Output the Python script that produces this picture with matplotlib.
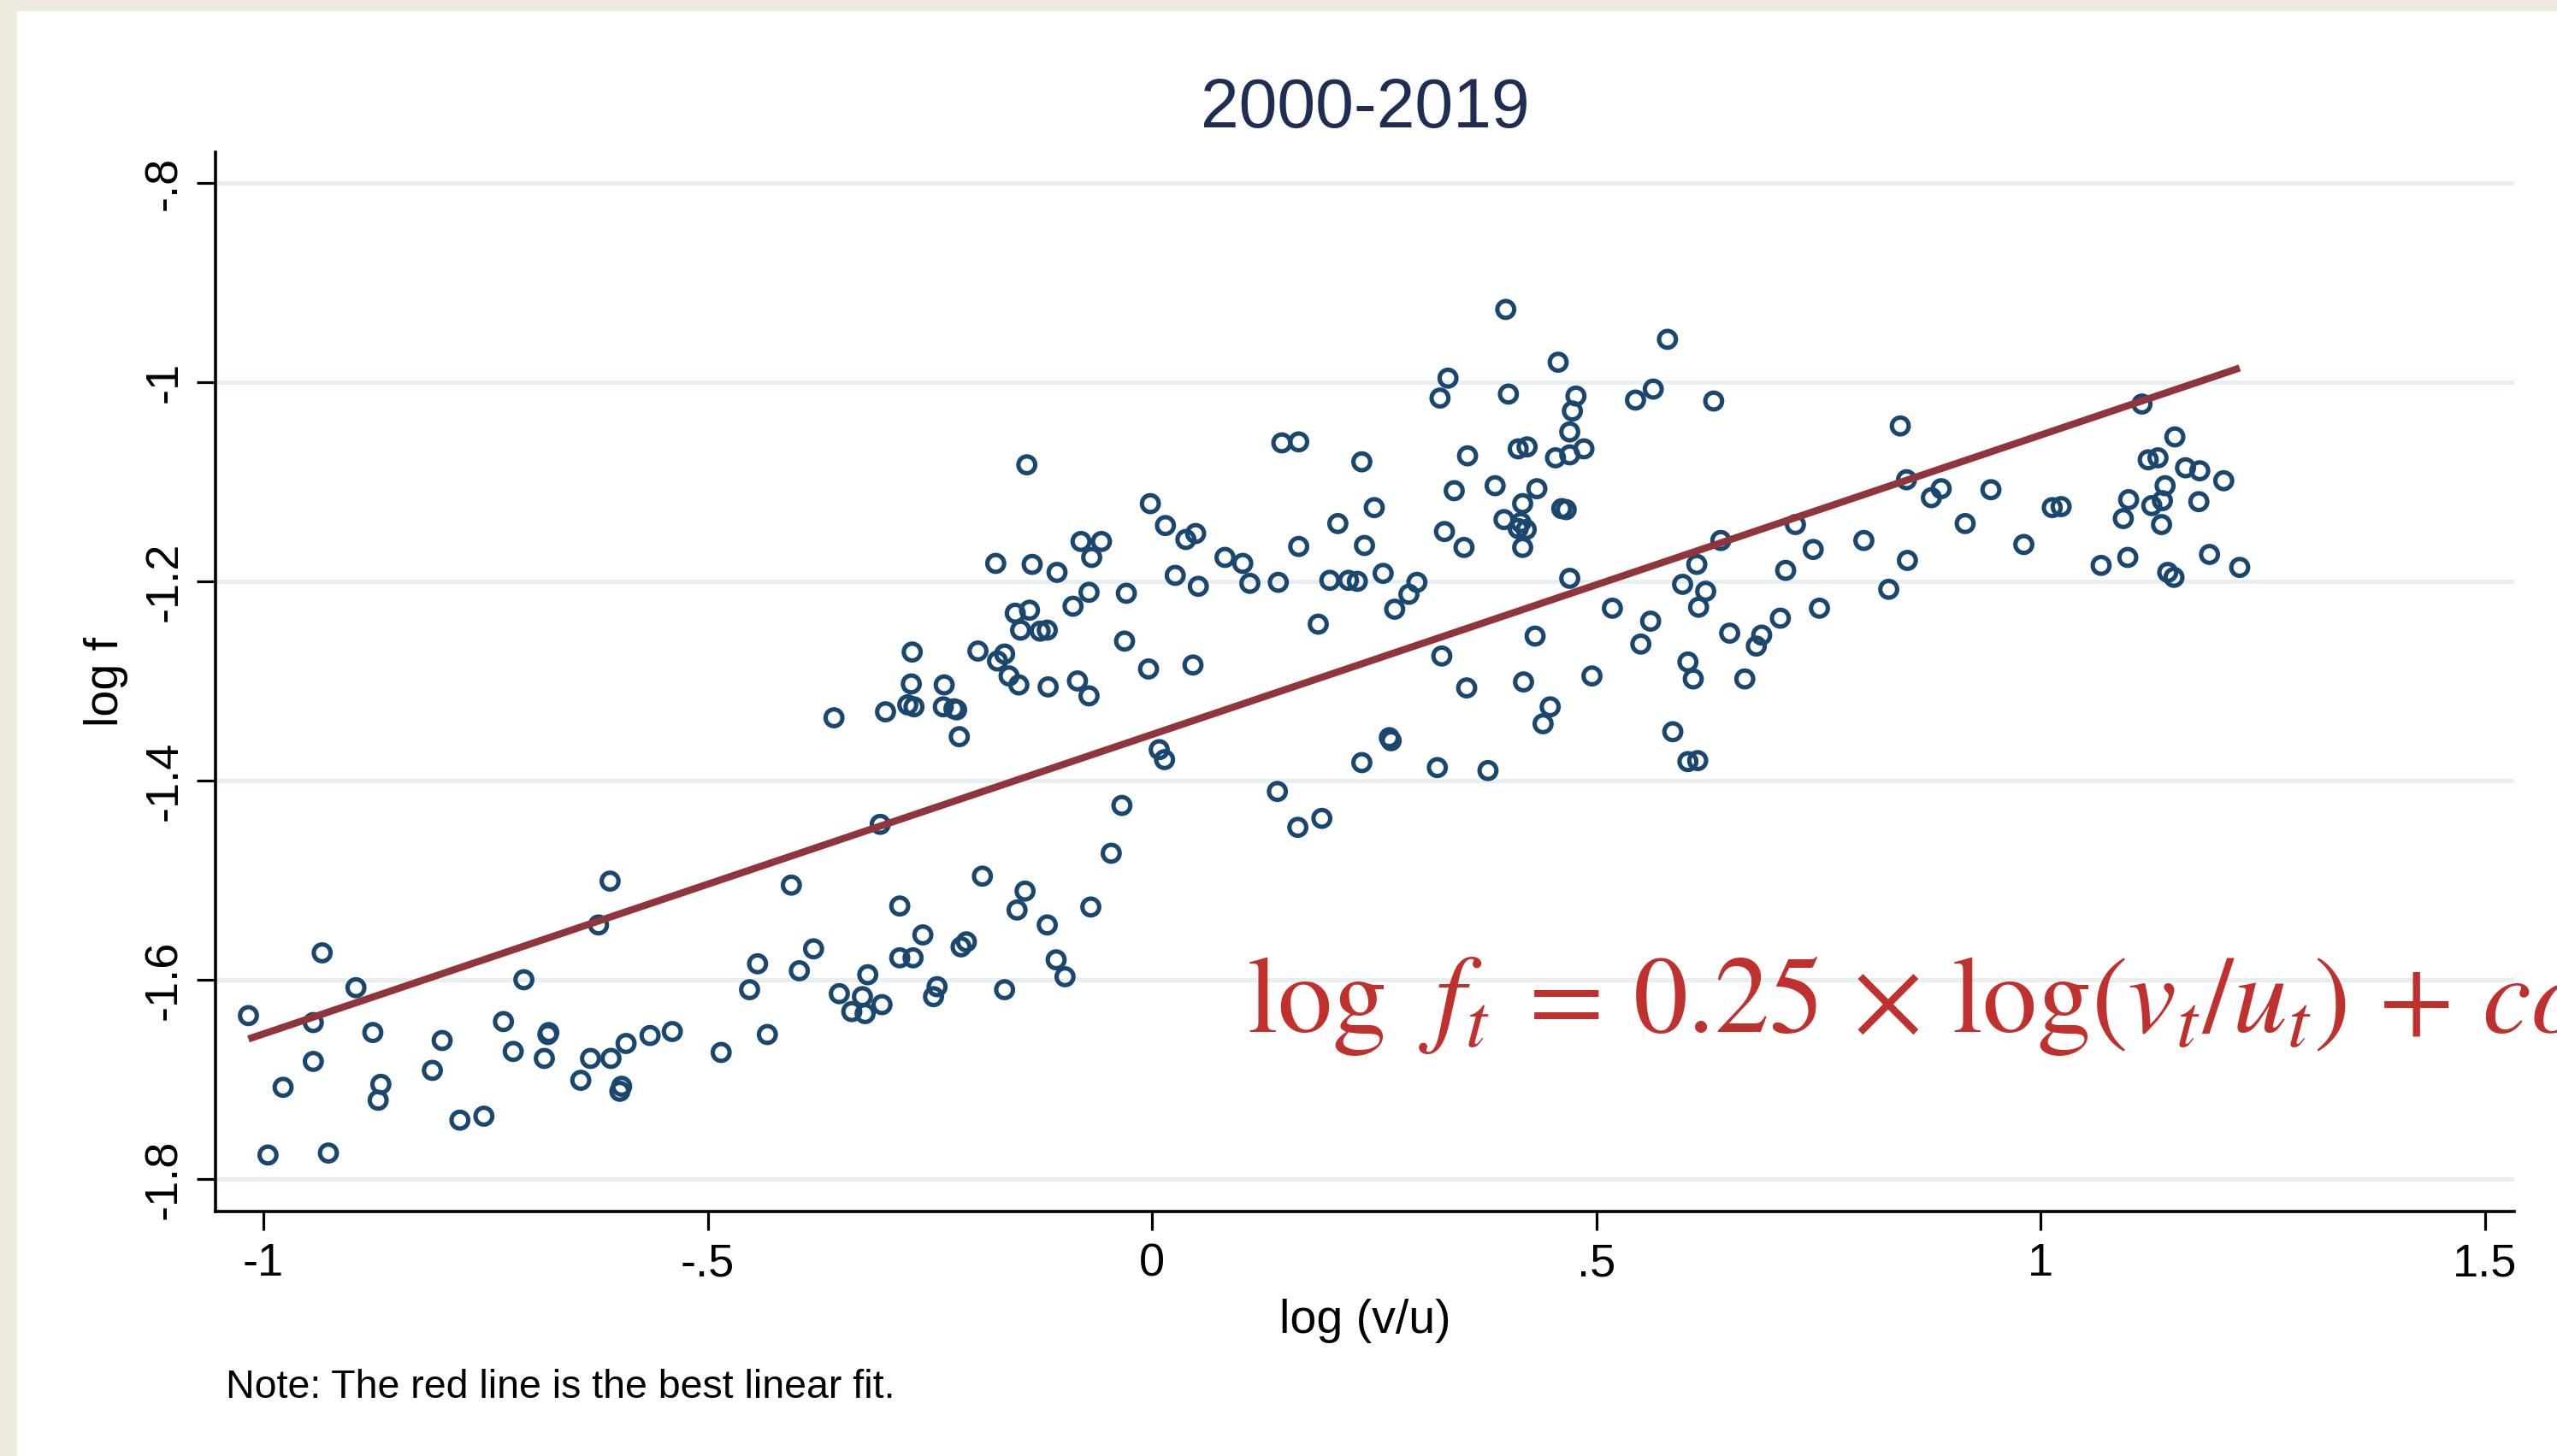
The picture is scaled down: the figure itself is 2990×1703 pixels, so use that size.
# Scatter of log f against log(v/u), 2000-2019, with linear fit

import numpy as np
import matplotlib.pyplot as plt
from matplotlib.patches import Rectangle

# data
log_vu = [
    -1.017, -0.934, -0.896, -0.944, -0.610, -0.623, -0.707, -0.730, -0.877, -0.799,
    -0.679, -0.680, -0.944, -0.978, -0.868, -0.871, -0.810, -0.719, -0.684, -0.643,
    -0.632, -0.609, -0.592, -0.597, -0.599, -0.565, -0.540, -0.485, -0.453, -0.444,
    -0.433, -0.779, -0.752, -0.995, -0.927,
    -0.141, -0.002, 0.015, 0.038, 0.049, 0.082, 0.102, 0.110, 0.142, 0.026,
    0.052, -0.080, -0.057, -0.068, -0.176, -0.135, -0.107, -0.071, -0.029, -0.089,
    -0.154, -0.138, -0.148, -0.126, -0.118, -0.031, -0.004, 0.046, -0.270, -0.196,
    -0.166, -0.174, -0.161, -0.150, -0.117, -0.084, -0.071, -0.271, -0.234, -0.275,
    -0.268, -0.235, -0.223, -0.220, -0.300, -0.358, -0.217, 0.008, 0.014, 0.141,
    -0.034, -0.306, -0.046, -0.406, -0.191, -0.143, -0.152, -0.284, -0.069, -0.118,
    -0.258, -0.209, -0.215, -0.381, -0.397, -0.284, -0.269, -0.320, -0.108, -0.098,
    -0.352, -0.326, -0.338, -0.323, -0.304, -0.242, -0.246, -0.166, 0.146,
    0.398, 0.580, 0.457, 0.333, 0.324, 0.401, 0.477, 0.473, 0.544, 0.564,
    0.632, 0.470, 0.165, 0.236, 0.355, 0.412, 0.422, 0.454, 0.470, 0.486,
    0.250, 0.209, 0.340, 0.386, 0.433, 0.417, 0.461, 0.466, 0.396, 0.415,
    0.412, 0.421, 0.417, 0.165, 0.239, 0.329, 0.351, 0.200, 0.221, 0.231,
    0.260, 0.298, 0.289, 0.273, 0.187, 0.470, 0.613, 0.597, 0.623, 0.615,
    0.640, 0.724, 0.744, 0.713, 0.751, 0.707, 0.518, 0.561, 0.550, 0.650,
    0.686, 0.680, 0.667, 0.603, 0.609, 0.431, 0.326, 0.354, 0.418, 0.448,
    0.440, 0.495, 0.586, 0.603, 0.614, 0.267, 0.269, 0.236, 0.321, 0.378,
    0.164, 0.191,
    0.842, 1.114, 1.151, 1.121, 1.132, 1.163, 1.179, 1.206, 1.140, 1.099,
    1.125, 1.137, 1.178, 1.093, 1.136, 1.068, 1.098, 1.143, 1.150, 1.190,
    1.224, 0.849, 0.877, 0.888, 0.944, 0.915, 1.013, 1.023, 0.981, 0.801,
    0.850, 0.829,
]
log_f = [
    -1.636, -1.573, -1.608, -1.643, -1.501, -1.545, -1.600, -1.642, -1.653, -1.661,
    -1.653, -1.655, -1.682, -1.708, -1.705, -1.721, -1.691, -1.672, -1.679, -1.701,
    -1.679, -1.679, -1.664, -1.707, -1.712, -1.656, -1.652, -1.673, -1.610, -1.584,
    -1.655, -1.741, -1.737, -1.776, -1.774,
    -1.083, -1.122, -1.144, -1.158, -1.152, -1.176, -1.182, -1.202, -1.201, -1.194,
    -1.205, -1.160, -1.160, -1.176, -1.182, -1.183, -1.191, -1.211, -1.212, -1.225,
    -1.232, -1.229, -1.249, -1.250, -1.249, -1.260, -1.288, -1.284, -1.271, -1.270,
    -1.273, -1.280, -1.295, -1.304, -1.306, -1.300, -1.315, -1.303, -1.304, -1.324,
    -1.326, -1.326, -1.328, -1.329, -1.331, -1.337, -1.356, -1.369, -1.379, -1.411,
    -1.425, -1.444, -1.473, -1.505, -1.496, -1.511, -1.530, -1.526, -1.527, -1.545,
    -1.555, -1.562, -1.567, -1.569, -1.591, -1.578, -1.578, -1.595, -1.580, -1.597,
    -1.614, -1.617, -1.632, -1.634, -1.625, -1.607, -1.617, -1.610, -1.061,
    -0.927, -0.957, -0.980, -0.996, -1.016, -1.012, -1.014, -1.029, -1.018, -1.007,
    -1.019, -1.050, -1.060, -1.080, -1.074, -1.067, -1.065, -1.076, -1.073, -1.067,
    -1.126, -1.142, -1.109, -1.104, -1.107, -1.122, -1.127, -1.128, -1.138, -1.141,
    -1.147, -1.148, -1.166, -1.165, -1.164, -1.150, -1.166, -1.199, -1.199, -1.200,
    -1.192, -1.201, -1.213, -1.228, -1.243, -1.197, -1.183, -1.203, -1.210, -1.226,
    -1.159, -1.143, -1.168, -1.189, -1.227, -1.237, -1.227, -1.240, -1.263, -1.252,
    -1.254, -1.265, -1.298, -1.281, -1.298, -1.255, -1.275, -1.307, -1.301, -1.326,
    -1.343, -1.295, -1.351, -1.381, -1.380, -1.357, -1.360, -1.382, -1.387, -1.390,
    -1.447, -1.438,
    -1.044, -1.022, -1.055, -1.078, -1.076, -1.086, -1.089, -1.099, -1.104, -1.118,
    -1.124, -1.119, -1.120, -1.137, -1.143, -1.184, -1.176, -1.191, -1.196, -1.173,
    -1.186, -1.098, -1.116, -1.107, -1.108, -1.142, -1.126, -1.125, -1.163, -1.159,
    -1.179, -1.208,
]

x_ticks = [-1, -0.5, 0, 0.5, 1, 1.5]
x_tick_labels = ['-1', '-.5', '0', '.5', '1', '1.5']
y_ticks = [-0.8, -1.0, -1.2, -1.4, -1.6, -1.8]
y_tick_labels = ['-.8', '-1', '-1.2', '-1.4', '-1.6', '-1.8']

navy = '#1a476f'
maroon = '#90353b'

plt.rcParams['font.family'] = ['Liberation Sans', 'DejaVu Sans']
plt.rcParams['mathtext.fontset'] = 'stix'

fig = plt.figure(figsize=(29.9, 17.03), dpi=100, facecolor='#eeeadf')
fig.patches.append(Rectangle((20/2990, 0), 1, 1 - 13/1703, transform=fig.transFigure,
                             facecolor='white', edgecolor='none', zorder=-5))

ax = fig.add_axes([0.0843, 0.1680, 0.8990, 0.7275])
ax.set_facecolor('white')

ax.scatter(log_vu, log_f, s=200, facecolors='none', edgecolors=navy, linewidths=3.7, zorder=3)

# best linear fit
coef = np.polyfit(log_vu, log_f, 1)
xs = np.array([min(log_vu), max(log_vu)])
ax.plot(xs, np.polyval(coef, xs), color=maroon, lw=6, zorder=4, solid_capstyle='butt')

ax.set_xlim(-1.054, 1.533)
ax.set_ylim(-1.8326, -0.7691)
ax.set_xticks(x_ticks)
ax.set_xticklabels(x_tick_labels)
ax.set_yticks(y_ticks)
ax.set_yticklabels(y_tick_labels, rotation=90, va='center')
ax.tick_params(axis='both', labelsize=39, length=16, width=2.3)
ax.tick_params(axis='x', pad=10)
ax.tick_params(axis='y', pad=9)

ax.yaxis.grid(True, color='#e8eff1', lw=3.6)
ax.set_axisbelow(True)
for s in ['top', 'right']:
    ax.spines[s].set_visible(False)
for s in ['left', 'bottom']:
    ax.spines[s].set_linewidth(2.6)

ax.set_xlabel('log (v/u)', fontsize=40)
ax.xaxis.label.set_va('center')
ax.xaxis.set_label_coords(0.5, -0.1033)
ax.set_ylabel('log f', fontsize=40)
ax.yaxis.label.set_va('center')
ax.yaxis.set_label_coords(-0.0476, 0.5)

fig.text(0.5338, 0.9125, '2000-2019', ha='center', va='baseline', fontsize=58, color='#1e2d52')
fig.text(0.0883, 0.0399, 'Note: The red line is the best linear fit.', fontsize=33.5, va='baseline')
fig.text(0.4876, 0.2913,
         r'$\log\;\,f_t\;=\,0.25\,\times\,\log(v_t/u_t)\,+\,const$',
         fontsize=92, color='#c0312d', va='baseline')

fig.savefig('out.png', dpi=100, facecolor=fig.get_facecolor())
